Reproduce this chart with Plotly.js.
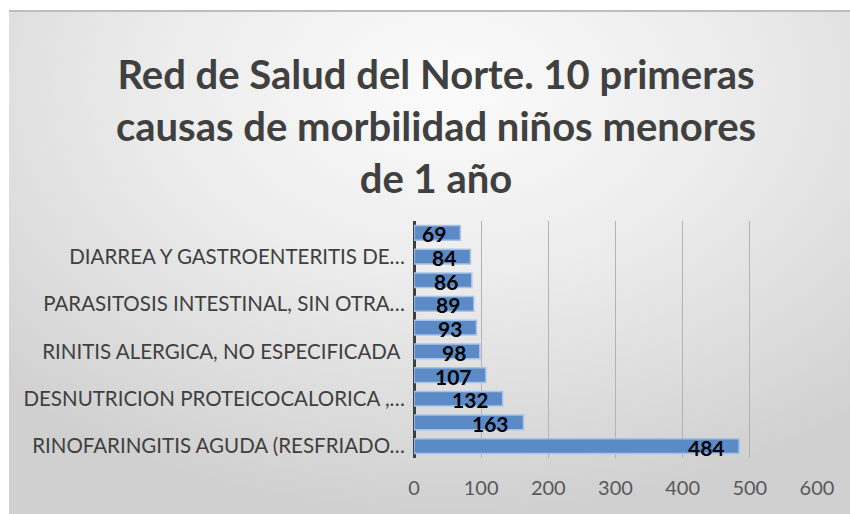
<!DOCTYPE html>
<html><head><meta charset="utf-8">
<script src="https://cdn.plot.ly/plotly-3.0.1.min.js"></script>
<style>
html,body{margin:0;padding:0;background:#fff;}
#bg{position:absolute;left:9px;top:10px;width:841px;height:504px;
 border-top:2px solid #bdbdbd;box-sizing:border-box;
 background:radial-gradient(ellipse 75% 85% at 52% 15%, #fbfbfb 0%, #ececec 45%, #d8d8d8 85%, #d0d0d0 100%);}
#chart{position:absolute;left:0;top:0;width:850px;height:514px;}
</style></head>
<body>
<div id="bg"></div>
<div id="chart"></div>
<script>
// bottom to top
const values = [484, 163, 132, 107, 98, 93, 89, 86, 84, 69];
const positions = [0, 1, 2, 3, 4, 5, 6, 7, 8, 9];
const tickPositions = [0, 2, 4, 6, 8];
const tickLabels = [
  "RINOFARINGITIS AGUDA (RESFRIADO…",
  "DESNUTRICION PROTEICOCALORICA ,…",
  "RINITIS ALERGICA, NO ESPECIFICADA ",
  "PARASITOSIS INTESTINAL, SIN OTRA…",
  "DIARREA Y GASTROENTERITIS DE…"
];
const xTicks = [0, 100, 200, 300, 400, 500, 600];
const titleText = "Red de Salud del Norte. 10 primeras<br>causas de morbilidad niños menores<br>de 1 año";

const trace = {
  type: 'bar', orientation: 'h',
  x: values, y: positions,
  marker: {color: '#5b8ac6', line: {color: '#a8c3e8', width: 1.5}},
  hoverinfo: 'none'
};

const annotations = values.map((v, i) => ({
  x: v, y: positions[i], xref: 'x', yref: 'y',
  text: String(v), showarrow: false, xanchor: 'right', yanchor: 'middle',
  xshift: -12, yshift: -1,
  font: {family: 'Lato, sans-serif', size: 21, color: '#000', weight: 'bold'}
}));

const layout = {
  width: 850, height: 514,
  paper_bgcolor: 'rgba(0,0,0,0)', plot_bgcolor: 'rgba(0,0,0,0)',
  margin: {l: 414, r: 33, t: 221, b: 56},
  bargap: 0.38,
  showlegend: false,
  title: {
    text: titleText, x: 0.513, xanchor: 'center', y: 0.826, yanchor: 'middle',
    yref: 'container',
    font: {family: 'Lato, sans-serif', size: 40, color: '#404040', weight: 'bold'}
  },
  xaxis: {
    range: [0, 600], tickvals: xTicks, ticktext: xTicks.map(String),
    showgrid: true, gridcolor: '#b3b3b3', gridwidth: 1,
    zeroline: true, zerolinecolor: '#404040', zerolinewidth: 3,
    showline: false, ticks: '', ticklabelstandoff: 16,
    tickfont: {family: 'Lato, sans-serif', size: 20, color: '#595959'},
    fixedrange: true
  },
  yaxis: {
    range: [-0.5, 9.5], tickvals: tickPositions, ticktext: tickLabels,
    showgrid: false, zeroline: false, showline: false, ticks: '',
    ticklabelstandoff: 8,
    tickfont: {family: 'Lato, sans-serif', size: 20.5, color: '#404040'},
    fixedrange: true
  },
  annotations: annotations
};

Plotly.newPlot('chart', [trace], layout, {displayModeBar: false, staticPlot: true});
</script>
</body></html>
